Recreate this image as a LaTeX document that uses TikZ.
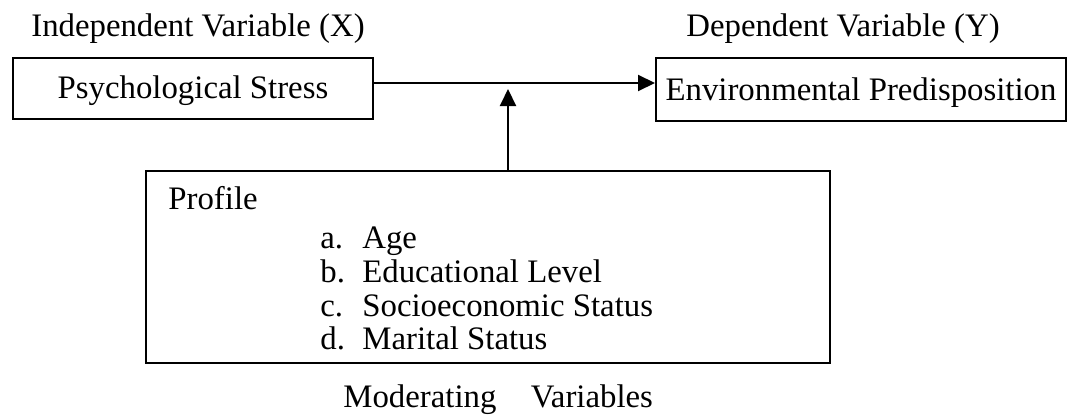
\documentclass[tikz,border=0pt]{standalone}
\usepackage{fontspec}
\setmainfont{Liberation Serif}
\usetikzlibrary{arrows.meta}
\tikzset{
  every node/.style={font=\fontsize{16.4pt}{20pt}\selectfont, inner sep=0pt},
  varbox/.style={draw, line width=1pt, rectangle, anchor=north west},
  conn/.style={line width=1pt, -{Triangle[length=8.5pt,width=8pt]}},
  lbl/.style={anchor=base},
  item/.style={anchor=base west},
}
\begin{document}
\begin{tikzpicture}[x=0.5pt,y=-0.5pt]
\useasboundingbox (0,0) rectangle (1068,417);
% labels
\node[lbl] (xl) at (198,37) {Independent Variable (X)};
\node[lbl] (yl) at (843,37) {Dependent Variable (Y)};
% boxes
\node[varbox, minimum width=180pt, minimum height=30.5pt] (ps) at (12,57) {};
\node[lbl] (pst) at ([yshift=-5pt]ps.center) {Psychological Stress};
\node[varbox, minimum width=205pt, minimum height=31.5pt] (ep) at (655,57) {};
\node[lbl] (ept) at ([yshift=-5.25pt]ep.center) {Environmental Predisposition};
\node[varbox, minimum width=342pt, minimum height=96pt] (prof) at (145,170) {};
% profile content
\node[item] (pt) at (168,209) {Profile};
\node[item] (la) at (320,248) {a.};
\node[item] (ia) at (362,248) {Age};
\node[item] (lb) at (320,282) {b.};
\node[item] (ib) at (362,282) {Educational Level};
\node[item] (lc) at (320,316) {c.};
\node[item] (ic) at (362,316) {Socioeconomic Status};
\node[item] (ld) at (320,349) {d.};
\node[item] (id) at (362,349) {Marital Status};
\node[item] (ml) at (343,407) {Moderating\hspace{1.05em}Variables};
% connectors
\coordinate (hs) at (372,83);
\coordinate (he) at (655,83);
\draw[conn] (ps.east |- hs) -- (ep.west |- he);
\coordinate (vs) at (508,170);
\coordinate (vt) at (508,89);
\draw[conn] (prof.north -| vs) -- (vt);
\end{tikzpicture}
\end{document}
